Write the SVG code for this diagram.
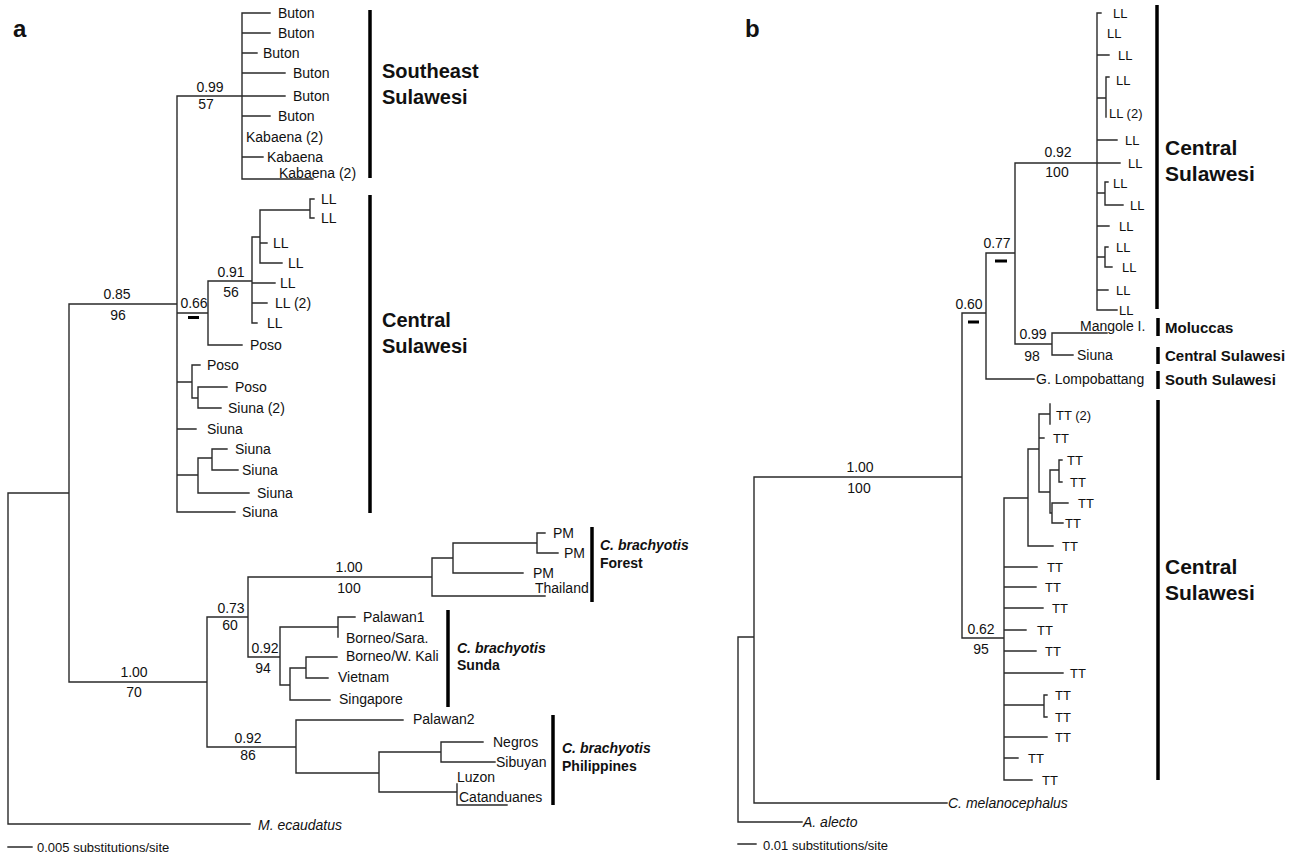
<svg xmlns="http://www.w3.org/2000/svg" width="1293" height="855" viewBox="0 0 1293 855">
<style>
text{font-family:"Liberation Sans",Arial,sans-serif;fill:#111;dominant-baseline:central}
.lf{font-size:14px}
.lb{font-size:13px}
.sv{font-size:14px;text-anchor:middle}
.it{font-style:italic}
.g1{font-size:20px;font-weight:bold}
.g2{font-size:21px;font-weight:bold}
.g3{font-size:15px;font-weight:bold}
.cb{font-size:14px;font-weight:bold}
.pl{font-size:24px;font-weight:bold}
.sc{font-size:13px}
.ln{fill:none;stroke:#2a2a2a;stroke-width:1.4;stroke-linecap:square}
.bar{stroke:#000;stroke-width:3.5}
.dash{fill:#000}
</style>
<rect width="1293" height="855" fill="#fff"/>
<text class="pl" x="13" y="28">a</text>
<text class="pl" x="745" y="28">b</text>

<g id="connectors">
<path class="ln" d="M8 493V824H250M8 493H69M69 304V682M69 304H177M177 96V512M177 96H242M242 13V179
M242 13H270M242 33H270M242 53H257M242 73H285M242 96H285M242 116H270M242 157H263M242 179H313
M177 313H208M208 281V345M208 281H252M208 345H242M252 237V323M252 237H260M260 210V263M260 210H310M310 199V218M310 199H314M310 218H314M260 243H267M260 263H282M252 283H275M252 303H267M252 323H257
M177 382H192M192 365V398M192 365H200M192 398H198M198 387V408M198 387H227M198 408H221M177 429H196M177 475H198M198 458V493M198 458H212M212 449V470M212 449H227M212 470H238M198 493H249M177 512H235
M69 682H207M207 617V747M207 617H248M248 577V657M248 577H432M432 558V596M432 558H453M453 543V573M453 543H537M537 533V553M537 533H545M537 553H558M453 573H523M432 596H545
M248 657H280M280 627V685M280 627H338M338 617V637M338 617H355M280 685H290M290 668V700M290 668H306M306 657V678M306 657H337M306 678H328M290 700H330
M207 747H296M296 720V773M296 720H403M296 773H379M379 752V792M379 752H441M441 742V762M441 742H483M441 762H495M379 792H457M457 784V805M457 805H507
M8 847H32"/>
<path class="ln" d="M738 637V822H802M738 637H754M754 477V803H947M754 477H962M962 313V638M962 313H986M986 253V379M986 379H1034M986 253H1015M1015 163V344M1015 163H1120
M1097 13V310M1097 13H1101M1097 55H1109M1097 98H1106M1106 77V117M1106 77H1109M1097 140H1117M1097 193H1105M1105 182V205M1105 182H1108M1105 205H1123M1097 226H1109M1097 257H1105M1105 247V267M1105 247H1108M1105 267H1112M1097 290H1108M1097 310H1117
M1015 344H1052M1052 333V355M1052 333H1107M1052 355H1073
M962 638H1004M1004 498V780M1004 498H1028M1028 449V546M1028 449H1039M1039 414V492M1039 414H1050M1050 404V424M1039 438H1044M1039 492H1050M1050 470V513M1050 470H1059M1059 460V482M1059 460H1062M1059 482H1062M1050 513H1052M1052 503V523M1052 503H1068M1052 523H1063M1028 546H1053
M1004 567H1037M1004 587H1036M1004 608H1043M1004 630H1026M1004 651H1036M1004 673H1063M1004 705H1044M1044 695V717M1044 695H1047M1044 717H1047M1004 737H1047M1004 758H1018M1004 780H1032
M738 844H756"/>
<rect class="dash" x="188" y="316" width="11" height="3"/>
<rect class="dash" x="995" y="259.5" width="12" height="3"/>
<rect class="dash" x="968" y="320.5" width="11" height="3"/>
</g>

<g id="support-a">
<text class="sv" x="210" y="87">0.99</text><text class="sv" x="206" y="104">57</text>
<text class="sv" x="117" y="294">0.85</text><text class="sv" x="118" y="315">96</text>
<text class="sv" x="194" y="303">0.66</text>
<text class="sv" x="231" y="272">0.91</text><text class="sv" x="231" y="292">56</text>
<text class="sv" x="134" y="672">1.00</text><text class="sv" x="134" y="692">70</text>
<text class="sv" x="231" y="608">0.73</text><text class="sv" x="230" y="625">60</text>
<text class="sv" x="349" y="567">1.00</text><text class="sv" x="349" y="588">100</text>
<text class="sv" x="265" y="648">0.92</text><text class="sv" x="263" y="668">94</text>
<text class="sv" x="248" y="738">0.92</text><text class="sv" x="248" y="755">86</text>
</g>

<g id="leaves-a">
<g id="a-buton1"><text class="lf" x="278" y="13">Buton</text></g>
<g id="a-buton2"><text class="lf" x="278" y="33">Buton</text></g>
<g id="a-buton3"><text class="lf" x="263" y="53">Buton</text></g>
<g id="a-buton4"><text class="lf" x="293" y="73">Buton</text></g>
<g id="a-buton5"><text class="lf" x="293" y="96">Buton</text></g>
<g id="a-buton6"><text class="lf" x="278" y="116">Buton</text></g>
<g id="a-kab1"><text class="lf" x="246" y="137">Kabaena (2)</text></g>
<g id="a-kab2"><text class="lf" x="267" y="157">Kabaena</text></g>
<g id="a-kab3"><text class="lf" x="279" y="173">Kabaena (2)</text></g>
<g id="a-ll1"><text class="lf" x="321" y="199">LL</text></g>
<g id="a-ll2"><text class="lf" x="321" y="218">LL</text></g>
<g id="a-ll3"><text class="lf" x="273" y="243">LL</text></g>
<g id="a-ll4"><text class="lf" x="288" y="263">LL</text></g>
<g id="a-ll5"><text class="lf" x="280" y="283">LL</text></g>
<g id="a-ll6"><text class="lf" x="275" y="303">LL (2)</text></g>
<g id="a-ll7"><text class="lf" x="267" y="323">LL</text></g>
<g id="a-poso1"><text class="lf" x="250" y="345">Poso</text></g>
<g id="a-poso2"><text class="lf" x="207" y="365">Poso</text></g>
<g id="a-poso3"><text class="lf" x="235" y="387">Poso</text></g>
<g id="a-siuna1"><text class="lf" x="228" y="408">Siuna (2)</text></g>
<g id="a-siuna2"><text class="lf" x="207" y="429">Siuna</text></g>
<g id="a-siuna3"><text class="lf" x="235" y="449">Siuna</text></g>
<g id="a-siuna4"><text class="lf" x="242" y="470">Siuna</text></g>
<g id="a-siuna5"><text class="lf" x="257" y="493">Siuna</text></g>
<g id="a-siuna6"><text class="lf" x="242" y="512">Siuna</text></g>
<g id="a-pm1"><text class="lf" x="553" y="533">PM</text></g>
<g id="a-pm2"><text class="lf" x="564" y="553">PM</text></g>
<g id="a-pm3"><text class="lf" x="533" y="573">PM</text></g>
<g id="a-thai"><text class="lf" x="535" y="588">Thailand</text></g>
<g id="a-pal1"><text class="lf" x="363" y="617">Palawan1</text></g>
<g id="a-bsara"><text class="lf" x="346" y="638">Borneo/Sara.</text></g>
<g id="a-bwk"><text class="lf" x="346" y="656">Borneo/W. Kali</text></g>
<g id="a-viet"><text class="lf" x="338" y="677">Vietnam</text></g>
<g id="a-sing"><text class="lf" x="339" y="699">Singapore</text></g>
<g id="a-pal2"><text class="lf" x="413" y="719">Palawan2</text></g>
<g id="a-negros"><text class="lf" x="493" y="742">Negros</text></g>
<g id="a-sibuyan"><text class="lf" x="496" y="762">Sibuyan</text></g>
<g id="a-luzon"><text class="lf" x="457" y="777">Luzon</text></g>
<g id="a-catan"><text class="lf" x="459" y="797">Catanduanes</text></g>
<g id="a-mec"><text class="lf it" x="258" y="825">M. ecaudatus</text></g>
<g id="a-scale"><text class="sc" x="37" y="847">0.005 substitutions/site</text></g>
</g>

<g id="groups-a">
<g id="a-se"><line class="bar" x1="370" y1="10" x2="370" y2="178"/><text class="g1" x="382" y="71">Southeast</text><text class="g1" x="382" y="97">Sulawesi</text></g>
<g id="a-cs"><line class="bar" x1="370" y1="195" x2="370" y2="513"/><text class="g1" x="382" y="320">Central</text><text class="g1" x="382" y="346">Sulawesi</text></g>
<g id="a-forest"><line class="bar" x1="592" y1="527" x2="592" y2="602"/><text class="cb it" x="600" y="545">C. brachyotis</text><text class="cb" x="600" y="563">Forest</text></g>
<g id="a-sunda"><line class="bar" x1="448" y1="610" x2="448" y2="707"/><text class="cb it" x="457" y="648">C. brachyotis</text><text class="cb" x="457" y="665">Sunda</text></g>
<g id="a-phil"><line class="bar" x1="553" y1="715" x2="553" y2="805"/><text class="cb it" x="562" y="748">C. brachyotis</text><text class="cb" x="562" y="766">Philippines</text></g>
</g>

<g id="support-b">
<text class="sv" x="860" y="467">1.00</text><text class="sv" x="859" y="488">100</text>
<text class="sv" x="1058" y="152">0.92</text><text class="sv" x="1057" y="172">100</text>
<text class="sv" x="997" y="243">0.77</text>
<text class="sv" x="969" y="304">0.60</text>
<text class="sv" x="1033" y="334">0.99</text><text class="sv" x="1032" y="356">98</text>
<text class="sv" x="981" y="629">0.62</text><text class="sv" x="981" y="649">95</text>
</g>

<g id="leaves-b">
<g id="b-ll1"><text class="lb" x="1113" y="13">LL</text></g>
<g id="b-ll2"><text class="lb" x="1107" y="33">LL</text></g>
<g id="b-ll3"><text class="lb" x="1118" y="55">LL</text></g>
<g id="b-ll4"><text class="lb" x="1116" y="80">LL</text></g>
<g id="b-ll5"><text class="lb" x="1109" y="113">LL (2)</text></g>
<g id="b-ll6"><text class="lb" x="1125" y="140">LL</text></g>
<g id="b-ll7"><text class="lb" x="1128" y="163">LL</text></g>
<g id="b-ll8"><text class="lb" x="1113" y="183">LL</text></g>
<g id="b-ll9"><text class="lb" x="1130" y="205">LL</text></g>
<g id="b-ll10"><text class="lb" x="1119" y="226">LL</text></g>
<g id="b-ll11"><text class="lb" x="1116" y="247">LL</text></g>
<g id="b-ll12"><text class="lb" x="1122" y="267">LL</text></g>
<g id="b-ll13"><text class="lb" x="1116" y="290">LL</text></g>
<g id="b-ll14"><text class="lb" x="1119" y="310">LL</text></g>
<g id="b-mangole"><text class="lf" x="1080" y="326">Mangole I.</text></g>
<g id="b-siuna"><text class="lf" x="1077" y="355">Siuna</text></g>
<g id="b-lompo"><text class="lf" x="1036" y="379">G. Lompobattang</text></g>
<g id="b-tt1"><text class="lb" x="1056" y="415">TT (2)</text></g>
<g id="b-tt2"><text class="lb" x="1053" y="438">TT</text></g>
<g id="b-tt3"><text class="lb" x="1067" y="460">TT</text></g>
<g id="b-tt4"><text class="lb" x="1070" y="482">TT</text></g>
<g id="b-tt5"><text class="lb" x="1078" y="503">TT</text></g>
<g id="b-tt6"><text class="lb" x="1065" y="523">TT</text></g>
<g id="b-tt7"><text class="lb" x="1062" y="546">TT</text></g>
<g id="b-tt8"><text class="lb" x="1047" y="567">TT</text></g>
<g id="b-tt9"><text class="lb" x="1045" y="587">TT</text></g>
<g id="b-tt10"><text class="lb" x="1052" y="608">TT</text></g>
<g id="b-tt11"><text class="lb" x="1037" y="630">TT</text></g>
<g id="b-tt12"><text class="lb" x="1045" y="651">TT</text></g>
<g id="b-tt13"><text class="lb" x="1070" y="673">TT</text></g>
<g id="b-tt14"><text class="lb" x="1055" y="695">TT</text></g>
<g id="b-tt15"><text class="lb" x="1055" y="717">TT</text></g>
<g id="b-tt16"><text class="lb" x="1055" y="737">TT</text></g>
<g id="b-tt17"><text class="lb" x="1028" y="758">TT</text></g>
<g id="b-tt18"><text class="lb" x="1042" y="780">TT</text></g>
<g id="b-cmel"><text class="lf it" x="948" y="803">C. melanocephalus</text></g>
<g id="b-alecto"><text class="lf it" x="803" y="822">A. alecto</text></g>
<g id="b-scale"><text class="sc" x="763" y="845">0.01 substitutions/site</text></g>
</g>

<g id="groups-b">
<g id="b-cs1"><line class="bar" x1="1157" y1="5" x2="1157" y2="309"/><text class="g2" x="1165" y="147">Central</text><text class="g2" x="1165" y="173">Sulawesi</text></g>
<g id="b-mol"><line class="bar" x1="1158" y1="318" x2="1158" y2="336"/><text class="g3" x="1165" y="327">Moluccas</text></g>
<g id="b-cs2"><line class="bar" x1="1158" y1="347" x2="1158" y2="364"/><text class="g3" x="1165" y="355">Central Sulawesi</text></g>
<g id="b-ss"><line class="bar" x1="1158" y1="371" x2="1158" y2="389"/><text class="g3" x="1165" y="379">South Sulawesi</text></g>
<g id="b-cs3"><line class="bar" x1="1158" y1="400" x2="1158" y2="780"/><text class="g2" x="1165" y="566">Central</text><text class="g2" x="1165" y="592">Sulawesi</text></g>
</g>
</svg>
